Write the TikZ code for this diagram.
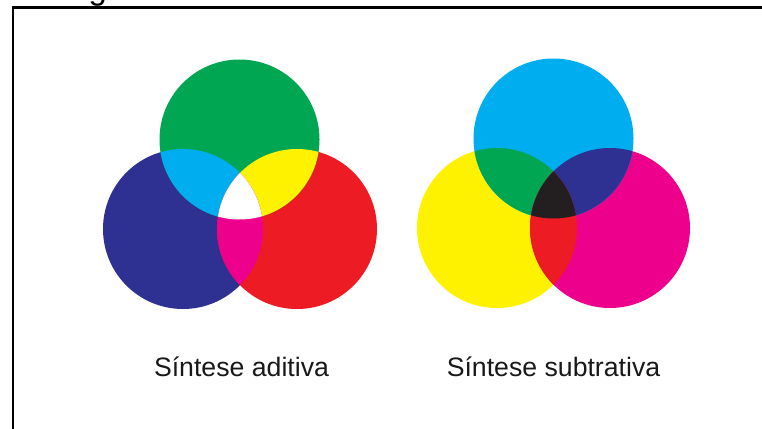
\documentclass[tikz,border=0pt]{standalone}
\usepackage{fontspec}
\setmainfont{Liberation Sans}
\definecolor{cgreen}{HTML}{00A651}
\definecolor{cblue}{HTML}{2E3192}
\definecolor{cred}{HTML}{ED1C24}
\definecolor{ccyan}{HTML}{00AEEF}
\definecolor{cyellow}{HTML}{FFF200}
\definecolor{cmagenta}{HTML}{EC008C}
\definecolor{cblack}{HTML}{231F20}
\tikzset{
  lbl/.style={anchor=base, inner sep=0pt, font=\fontsize{20}{24}\selectfont, text=black!90},
  ttl/.style={anchor=base west, inner sep=0pt, font=\fontsize{24.6}{29}\selectfont},
  frame/.style={draw=black, line width=1.8pt}
}
\begin{document}
\begin{tikzpicture}[x=0.75pt,y=-0.75pt]
\useasboundingbox (0,0) rectangle (762,428);
\clip (0,0) rectangle (762,428);
\fill[white] (0,0) rectangle (762,428);
% title (cut off at top)
\node[ttl] (title) at (61,-0.5) {Figura 1 – Síntese aditiva e síntese subtrativa};
% frame
\draw[frame] (13,7.7) rectangle (800,470);
% centres
\coordinate (G) at (239.5,139.5);
\coordinate (B) at (183,229);
\coordinate (R) at (297,229);
\coordinate (C) at (553.5,138.5);
\coordinate (Y) at (497,228);
\coordinate (M) at (610,228);
\def\rr{80}
% additive synthesis
\fill[cblue] (B) circle (\rr);
\fill[cred] (R) circle (\rr);
\fill[cgreen] (G) circle (\rr);
\begin{scope}\clip (B) circle (\rr); \fill[ccyan] (G) circle (\rr);\end{scope}
\begin{scope}\clip (R) circle (\rr); \fill[cyellow] (G) circle (\rr);\end{scope}
\begin{scope}\clip (B) circle (\rr); \fill[cmagenta] (R) circle (\rr);\end{scope}
\begin{scope}\clip (B) circle (\rr); \clip (R) circle (\rr); \fill[white] (G) circle (\rr);\end{scope}
% subtractive synthesis
\fill[cyellow] (Y) circle (\rr);
\fill[cmagenta] (M) circle (\rr);
\fill[ccyan] (C) circle (\rr);
\begin{scope}\clip (Y) circle (\rr); \fill[cgreen] (C) circle (\rr);\end{scope}
\begin{scope}\clip (M) circle (\rr); \fill[cblue] (C) circle (\rr);\end{scope}
\begin{scope}\clip (Y) circle (\rr); \fill[cred] (M) circle (\rr);\end{scope}
\begin{scope}\clip (Y) circle (\rr); \clip (M) circle (\rr); \fill[cblack] (C) circle (\rr);\end{scope}
% labels
\node[lbl] (ladd) at (241.5,376.7) {Síntese aditiva};
\node[lbl] (lsub) at (553.5,376.7) {Síntese subtrativa};
\end{tikzpicture}
\end{document}
